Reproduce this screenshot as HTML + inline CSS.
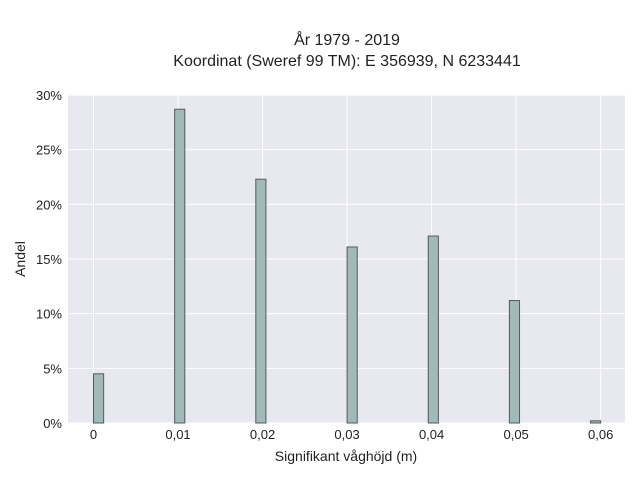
<!DOCTYPE html>
<html><head><meta charset="utf-8"><style>
body{margin:0;background:#fff;}
svg{display:block;font-family:"Liberation Sans",sans-serif;}
</style></head><body>
<svg id="chart" width="640" height="480">
<rect x="0" y="0" width="640" height="480" fill="#fff"/>
<text x="347" y="45" text-anchor="middle" font-size="16" fill="#222">År 1979 - 2019</text>
<text x="347" y="66" text-anchor="middle" font-size="16" fill="#222">Koordinat (Sweref 99 TM): E 356939, N 6233441</text>
<rect x="68" y="95" width="557" height="328" fill="#e8e8f0"/>
<g id="grid"></g>
<g id="bars"></g>
<g id="ticks"></g>
<text x="346" y="461" text-anchor="middle" font-size="14" fill="#222">Signifikant våghöjd (m)</text>
<text transform="translate(25,259) rotate(-90)" text-anchor="middle" font-size="14" fill="#222">Andel</text>
</svg>
<script>
const binStarts=[0,0.0096,0.0192,0.0300,0.0396,0.0492,0.0588];
const shares=[4.5,28.7,22.3,16.1,17.1,11.2,0.2];
const xTicks=[0,0.01,0.02,0.03,0.04,0.05,0.06];
const xTickLabels=["0","0,01","0,02","0,03","0,04","0,05","0,06"];
const yTicks=[0,5,10,15,20,25,30];
const yTickLabels=["0%","5%","10%","15%","20%","25%","30%"];
const binWidth=0.0012;
const NS="http://www.w3.org/2000/svg";
const x=v=>93.5+v*8453;
const y=v=>423-v*10.933;
const grid=document.getElementById('grid'),bars=document.getElementById('bars'),ticks=document.getElementById('ticks');
function mk(tag,attrs,parent){const e=document.createElementNS(NS,tag);for(const k in attrs)e.setAttribute(k,attrs[k]);parent.appendChild(e);return e;}
yTicks.forEach((t,i)=>{
  const l=mk('line',{x1:68,x2:625,y1:y(t),y2:y(t),stroke:'#fff','stroke-width':1},grid);
  
  
  const tx=mk('text',{x:62,y:y(t)+5,'text-anchor':'end','font-size':13,fill:'#222'},ticks);
  tx.textContent=yTickLabels[i];
  
  
});
xTicks.forEach((t,i)=>{
  const l=mk('line',{x1:x(t),x2:x(t),y1:95,y2:423,stroke:'#fff','stroke-width':1},grid);
  
  
  const tx=mk('text',{x:x(t),y:439,'text-anchor':'middle','font-size':13,fill:'#222'},ticks);
  tx.textContent=xTickLabels[i];
  
  
});
binStarts.forEach((b,i)=>{
  const x0=x(b),x1=x(b+binWidth),top=y(shares[i]);
  const r=mk('rect',{x:x0,y:top,width:x1-x0,height:423-top,fill:'#a0b9b9',stroke:'#555a5a','stroke-width':1},bars);
  
  
});
</script>
</body></html>
